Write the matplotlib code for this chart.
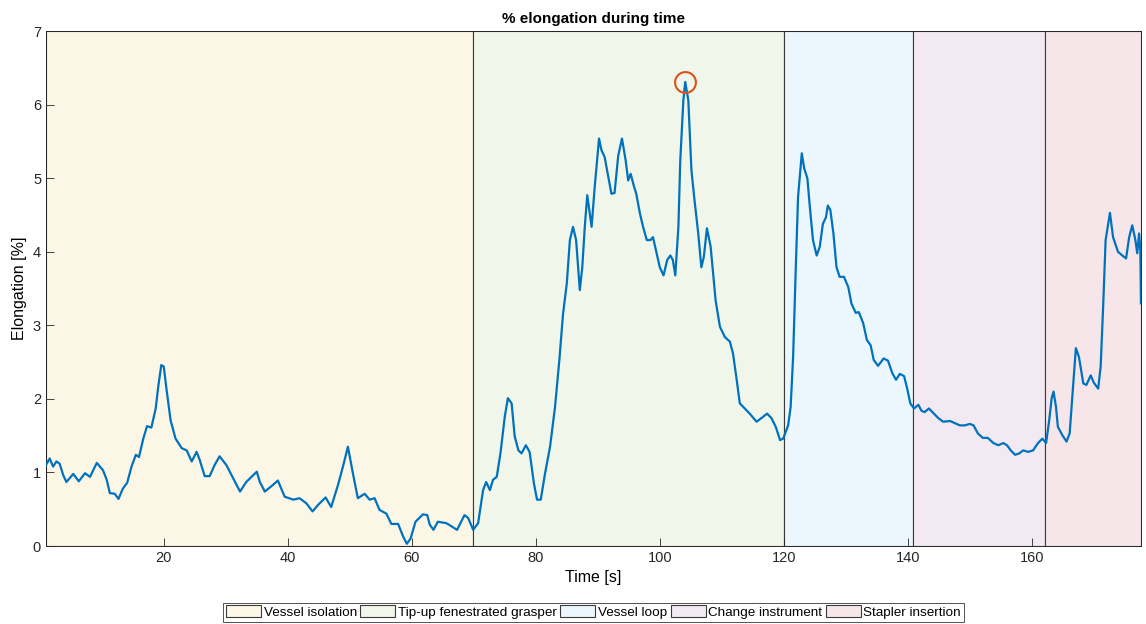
import numpy as np
import matplotlib
matplotlib.use("Agg")
import matplotlib.pyplot as plt

plt.rcParams['font.family'] = ['Liberation Sans', 'DejaVu Sans']

# time [s] and elongation [%]
time = [1.0, 1.6, 2.15, 2.7, 3.2, 3.8, 4.3, 5.4, 6.3, 7.3, 8.1, 9.2, 10.2, 10.8, 11.3,
        12.1, 12.7, 13.4, 14.1, 14.8, 15.5, 16.0, 16.7, 17.3, 18.0, 18.7, 19.1, 19.6,
        20.0, 20.4, 21.1, 21.9, 22.9, 23.7, 24.5, 25.3, 25.8, 26.6, 27.4, 28.2, 29.0,
        30.1, 31.2, 32.3, 33.3, 35.0, 35.5, 36.3, 37.6, 38.4, 39.5, 40.9, 41.9, 43.0,
        44.0, 44.9, 46.1, 47.0, 48.1, 48.9, 49.7, 50.5, 51.3, 52.4, 53.2, 54.0, 54.8,
        55.9, 56.7, 57.8, 58.6, 59.2, 59.8, 60.6, 61.8, 62.5, 62.9, 63.5, 64.2, 65.6,
        67.3, 68.5, 69.1, 69.9,
        70.7, 71.5, 72.0, 72.6, 73.1, 73.7, 74.3, 75.0, 75.5, 76.1, 76.6, 77.2, 77.7,
        78.4, 79.0, 79.7, 80.2, 80.8, 81.5, 82.3, 83.1, 83.8, 84.4, 85.0, 85.5, 86.0,
        86.5, 87.1, 87.5, 87.9, 88.3, 89.0, 89.5, 90.2, 90.6, 91.1, 91.7, 92.2, 92.7,
        93.3, 93.9, 94.5, 94.9, 95.3, 95.8, 96.2, 96.8, 97.3, 97.9, 98.5, 98.9, 99.5,
        100.0, 100.6, 101.2, 101.7, 102.1, 102.5, 103.0, 103.3, 103.8, 104.1, 104.6,
        105.1, 105.6, 106.2, 106.7, 107.1, 107.6, 108.2, 108.6, 109.0, 109.7, 110.5,
        111.3, 111.8, 112.4, 112.9, 113.7, 114.5, 115.6, 116.4, 117.3, 118.0, 118.7,
        119.4, 119.9,
        120.7, 121.1, 121.5, 121.9, 122.3, 122.9, 123.3, 123.8, 124.2, 124.7, 125.3,
        125.8, 126.3, 126.8, 127.1, 127.5, 128.0, 128.5, 129.0, 129.7, 130.4, 130.9,
        131.6, 132.1, 132.8, 133.4, 134.0, 134.5, 135.2, 136.1, 136.8, 137.5, 138.1,
        138.7, 139.4, 139.9, 140.4, 141.0, 141.7, 142.2, 142.7, 143.4, 144.1, 144.9,
        145.7, 146.8, 147.6, 148.4, 149.2, 150.0, 150.6, 151.3, 152.1, 152.9, 153.8,
        154.6, 155.4, 156.0, 156.6, 157.3, 158.0, 158.6, 159.4, 160.2, 161.0, 161.7,
        162.3, 162.8, 163.2, 163.5, 163.9, 164.2, 164.9, 165.6, 166.1, 166.6, 167.1,
        167.6, 168.3, 168.8, 169.5, 170.0, 170.7, 171.1, 171.5, 171.9, 172.6, 173.1,
        173.9, 174.6, 175.2, 175.7, 176.2, 176.7, 177.0, 177.3, 177.5, 177.6]
elong = [1.10, 1.19, 1.08, 1.15, 1.12, 0.96, 0.87, 0.98, 0.88, 0.99, 0.94, 1.13, 1.03, 0.90, 0.72,
         0.71, 0.64, 0.78, 0.86, 1.08, 1.24, 1.21, 1.46, 1.63, 1.61, 1.87, 2.16, 2.46,
         2.44, 2.16, 1.71, 1.46, 1.33, 1.30, 1.15, 1.28, 1.17, 0.95, 0.95, 1.10, 1.22,
         1.10, 0.92, 0.74, 0.87, 1.01, 0.87, 0.74, 0.83, 0.89, 0.67, 0.63, 0.65, 0.58,
         0.47, 0.56, 0.66, 0.53, 0.83, 1.08, 1.35, 0.99, 0.65, 0.71, 0.63, 0.65, 0.49,
         0.44, 0.30, 0.30, 0.13, 0.03, 0.10, 0.33, 0.43, 0.42, 0.29, 0.22, 0.33, 0.31,
         0.22, 0.42, 0.38, 0.22,
         0.31, 0.76, 0.87, 0.76, 0.90, 0.94, 1.26, 1.76, 2.01, 1.94, 1.49, 1.30, 1.26,
         1.37, 1.28, 0.85, 0.63, 0.63, 0.99, 1.35, 1.89, 2.53, 3.16, 3.57, 4.16, 4.34,
         4.16, 3.48, 3.79, 4.34, 4.77, 4.34, 4.88, 5.54, 5.38, 5.29, 5.02, 4.79, 4.80,
         5.31, 5.54, 5.24, 4.97, 5.06, 4.90, 4.79, 4.52, 4.34, 4.16, 4.16, 4.20, 3.98,
         3.79, 3.68, 3.89, 3.95, 3.89, 3.68, 4.34, 5.24, 6.06, 6.31, 6.06,
         5.11, 4.70, 4.25, 3.79, 3.93, 4.32, 4.07, 3.70, 3.34, 2.98, 2.84,
         2.78, 2.62, 2.26, 1.94, 1.87, 1.80, 1.69, 1.74, 1.80, 1.74, 1.62,
         1.44, 1.46,
         1.64, 1.89, 2.57, 3.70, 4.75, 5.34, 5.13, 5.00, 4.61, 4.16, 3.95,
         4.07, 4.38, 4.47, 4.63, 4.57, 4.25, 3.79, 3.66, 3.66, 3.52, 3.30,
         3.17, 3.18, 3.03, 2.80, 2.73, 2.53, 2.45, 2.55, 2.52, 2.35, 2.26,
         2.34, 2.31, 2.14, 1.94, 1.87, 1.92, 1.84, 1.82, 1.87, 1.81, 1.74,
         1.69, 1.70, 1.67, 1.64, 1.64, 1.66, 1.64, 1.53, 1.47, 1.47, 1.40,
         1.37, 1.40, 1.37, 1.30, 1.24, 1.26, 1.30, 1.28, 1.30, 1.40, 1.46,
         1.40, 1.71, 2.01, 2.10, 1.89, 1.62, 1.51, 1.42, 1.53, 2.12, 2.69,
         2.57, 2.21, 2.19, 2.32, 2.22, 2.14, 2.44, 3.25, 4.16, 4.53, 4.20,
         4.00, 3.95, 3.91, 4.20, 4.36, 4.16, 3.98, 4.25, 4.02, 3.30]

phases = ["Vessel isolation", "Tip-up fenestrated grasper", "Vessel loop",
          "Change instrument", "Stapler insertion"]
phase_edges = [1.0, 69.8, 120.0, 140.8, 162.2, 177.6]
phase_colors = ["#FCF6E6", "#F0F6E9", "#EBF7FC", "#F2E9F2", "#F6E6E9"]

t = np.array(time)
e = np.array(elong)
imax = np.argmax(e)

fig = plt.figure(figsize=(11.46, 6.24), dpi=100)
ax = fig.add_axes([0.0401, 0.125, 0.9555, 0.825])

for i in range(len(phases)):
    ax.axvspan(phase_edges[i], phase_edges[i + 1], facecolor=phase_colors[i],
               edgecolor="#3a3a3a", linewidth=0.8, label=phases[i], zorder=0)

ax.plot(t, e, color="#0072BD", linewidth=1.6, zorder=3)
ax.plot(t[imax], e[imax], 'o', markersize=15, markerfacecolor='none',
        markeredgecolor="#D95319", markeredgewidth=1.5, zorder=4)

ax.set_xlim(phase_edges[0], phase_edges[-1])
ax.set_ylim(0, 7)
ax.set_xticks(np.arange(20, 161, 20))
ax.set_yticks(np.arange(0, 8, 1))
ax.tick_params(direction='in', length=6, width=0.6, colors='#262626', labelsize=10.5)
for s in ax.spines.values():
    s.set_color('#262626')
    s.set_linewidth(0.7)

ax.set_title("% elongation during time", fontsize=11, fontweight='bold', pad=6)
ax.set_xlabel("Time [s]", fontsize=11.5, labelpad=4)
ax.set_ylabel("Elongation [%]", fontsize=11.5, labelpad=4)

leg = ax.legend(loc='upper center', bbox_to_anchor=(0.5, -0.11), ncol=5,
                fontsize=9.7, frameon=True, fancybox=False, borderpad=0.2,
                handlelength=2.6, handleheight=1.0, handletextpad=0.2,
                columnspacing=0.25, borderaxespad=0)
leg.get_frame().set_edgecolor('#262626')
leg.get_frame().set_linewidth(0.7)

fig.savefig("out.png", dpi=100)
